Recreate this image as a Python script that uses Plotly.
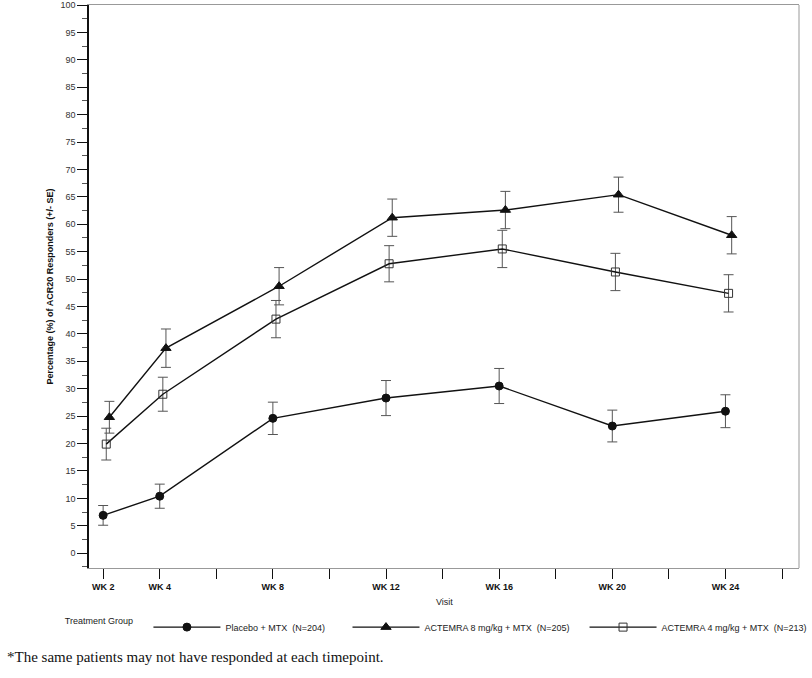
import plotly.graph_objects as go

# ---- data ----
weeks = [2, 4, 8, 12, 16, 20, 24]
visit_labels = ["WK 2", "WK 4", "WK 8", "WK 12", "WK 16", "WK 20", "WK 24"]

placebo = [6.9, 10.4, 24.6, 28.3, 30.5, 23.2, 25.9]
placebo_se = [1.8, 2.2, 2.95, 3.2, 3.2, 2.9, 3.0]

act8 = [24.8, 37.4, 48.7, 61.2, 62.6, 65.4, 58.0]
act8_se = [2.9, 3.5, 3.4, 3.4, 3.4, 3.2, 3.4]

act4 = [19.9, 29.0, 42.7, 52.8, 55.5, 51.3, 47.4]
act4_se = [2.9, 3.1, 3.4, 3.3, 3.4, 3.4, 3.4]

series_names = [
    "Placebo + MTX&nbsp; (N=204)",
    "ACTEMRA 8 mg/kg + MTX&nbsp; (N=205)",
    "ACTEMRA 4 mg/kg + MTX&nbsp; (N=213)",
]

all_ticks = [2, 4, 6, 8, 10, 12, 14, 16, 18, 20, 22, 24, 26]

# ---- styles ----
FONT = "Liberation Sans, Arial, sans-serif"
ERR = dict(type="data", thickness=1, width=5, color="#555555")
PADS = ["&nbsp;" * 7, "&nbsp;" * 4, ""]

fig = go.Figure()

def add(vals, se, name, pad, symbol, size, offset, mcolor, mline):
    fig.add_trace(go.Scatter(
        x=[w + offset for w in weeks], y=vals, name=name + pad,
        mode="lines+markers",
        line=dict(color="#111111", width=1.4),
        marker=dict(symbol=symbol, size=size, color=mcolor,
                    line=dict(color=mline, width=1)),
        error_y=dict(array=se, **ERR),
    ))

add(placebo, placebo_se, series_names[0], PADS[0], "circle", 8, 0.0, "#111111", "#111111")
add(act8, act8_se, series_names[1], PADS[1], "triangle-up", 9, 0.22, "#111111", "#111111")
add(act4, act4_se, series_names[2], PADS[2], "square-open", 8, 0.11, "#333333", "#333333")

ticktext = [visit_labels[weeks.index(t)] if t in weeks else "" for t in all_ticks]

fig.update_layout(
    width=812, height=678,
    margin=dict(l=89, r=13, t=5, b=110, autoexpand=False),
    paper_bgcolor="white", plot_bgcolor="white",
    font=dict(family=FONT, size=9, color="#222222"),
    showlegend=True,
    legend=dict(
        orientation="h", x=-0.037, xanchor="left", y=-0.105, yanchor="middle",
        title=dict(text="Treatment Group   ", side="left", font=dict(size=9)),
        font=dict(size=9, color="#222222"),
        itemwidth=67,
        traceorder="normal",
    ),
    xaxis=dict(
        range=[1.5, 26.6], tickmode="array", tickvals=all_ticks, ticktext=ticktext,
        ticks="outside", ticklen=10, tickcolor="#111111", tickwidth=1,
        showline=True, linecolor="#999999", linewidth=1, mirror=True,
        showgrid=False, zeroline=False, automargin=False,
        tickfont=dict(size=9, color="#111111", weight="bold"),
    ),
    yaxis=dict(
        range=[-2.7, 100], tickmode="linear", tick0=0, dtick=5,
        ticks="outside", ticklen=10, tickcolor="#111111", tickwidth=1,
        minor=dict(dtick=2.5, ticks="outside", ticklen=5, tickcolor="#555555"),
        showline=True, linecolor="#111111", linewidth=1.5,
        showgrid=False, zeroline=False, automargin=False,
        tickfont=dict(size=9, color="#333333"),
    ),
    shapes=[dict(type="line", xref="paper", yref="paper", x0=1, x1=1, y0=0, y1=1,
                 line=dict(color="#999999", width=1))],
    annotations=[
        dict(text="<b>Percentage (%) of ACR20 Responders (+/- SE)</b>",
             xref="paper", yref="paper", x=(49 - 89) / 710, y=0.5,
             textangle=-90, showarrow=False, font=dict(size=9, color="#111111"),
             xanchor="center", yanchor="middle"),
        dict(text="Visit", xref="paper", yref="paper", x=0.5, y=(568 - 602) / 563,
             showarrow=False, font=dict(size=9, color="#222222"),
             xanchor="center", yanchor="middle"),
        dict(text="*The same patients may not have responded at each timepoint.",
             xref="paper", yref="paper", x=(5 - 89) / 710, y=(568 - 657) / 563,
             showarrow=False, xanchor="left", yanchor="middle",
             font=dict(family="Liberation Serif, Times New Roman, serif", size=15,
                       color="#111111")),
    ],
)

fig.write_html("out.html")
